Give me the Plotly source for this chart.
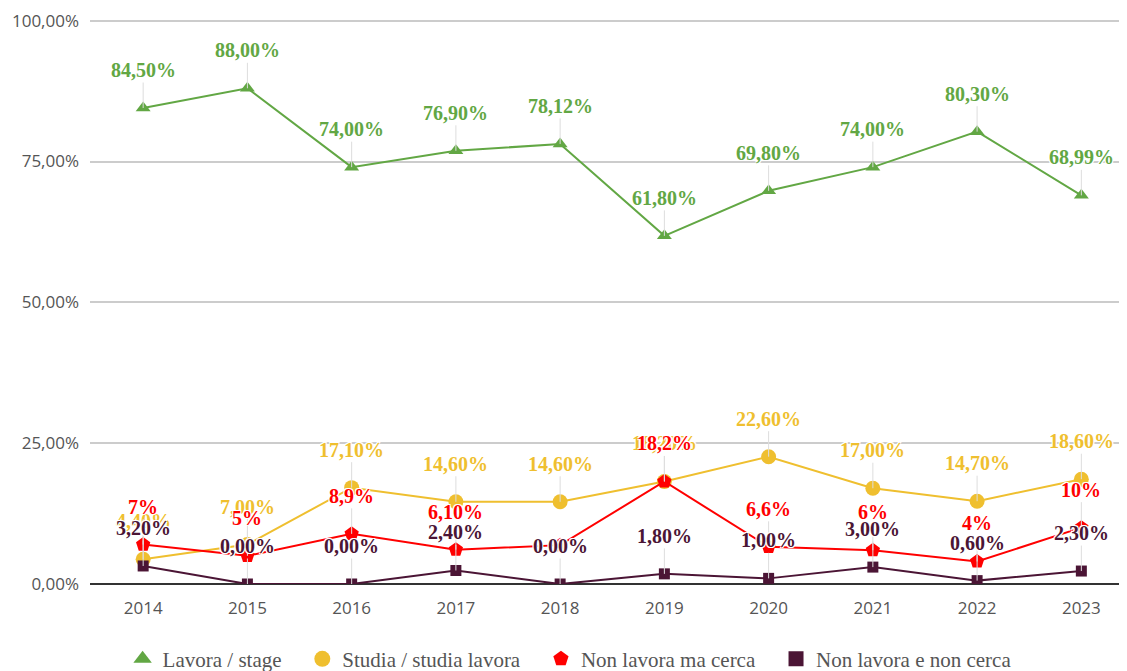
import plotly.graph_objects as go

anni = [2014, 2015, 2016, 2017, 2018, 2019, 2020, 2021, 2022, 2023]

lavora = [84.50, 88.00, 74.00, 76.90, 78.12, 61.80, 69.80, 74.00, 80.30, 68.99]
studia = [4.40, 7.00, 17.10, 14.60, 14.60, 18.20, 22.60, 17.00, 14.70, 18.60]
cerca = [7.0, 5.0, 8.9, 6.1, 6.9, 18.2, 6.6, 6.0, 4.0, 10.0]
non_cerca = [3.20, 0.00, 0.00, 2.40, 0.00, 1.80, 1.00, 3.00, 0.60, 2.30]

# etichette come nel grafico originale (la serie rossa ha formati misti)
lab_lavora = ["84,50%", "88,00%", "74,00%", "76,90%", "78,12%", "61,80%", "69,80%", "74,00%", "80,30%", "68,99%"]
lab_studia = ["4,40%", "7,00%", "17,10%", "14,60%", "14,60%", "18,20%", "22,60%", "17,00%", "14,70%", "18,60%"]
lab_cerca = ["7%", "5%", "8,9%", "6,10%", None, "18,2%", "6,6%", "6%", "4%", "10%"]
lab_non_cerca = ["3,20%", "0,00%", "0,00%", "2,40%", "0,00%", "1,80%", "1,00%", "3,00%", "0,60%", "2,30%"]

y_tick = [0, 25, 50, 75, 100]
y_tick_txt = ["0,00%", "25,00%", "50,00%", "75,00%", "100,00%"]

serie = [
    ("Lavora / stage", lavora, lab_lavora, "#62a744", "triangle-up", 13),
    ("Studia / studia lavora", studia, lab_studia, "#efbf2f", "circle", 15),
    ("Non lavora ma cerca", cerca, lab_cerca, "#ff0000", "pentagon", 15),
    ("Non lavora e non cerca", non_cerca, lab_non_cerca, "#4b1535", "square", 11),
]

halo = "1px 1px 0 #fff, -1px -1px 0 #fff, 1px -1px 0 #fff, -1px 1px 0 #fff"

fig = go.Figure()
annotations = []
for nome, valori, etichette, colore, simbolo, dim in serie:
    fig.add_trace(go.Scatter(
        x=anni, y=valori, name=nome, mode="lines+markers", showlegend=False,
        line=dict(color=colore, width=2),
        marker=dict(symbol=simbolo, size=dim, color=colore),
    ))
    # voce di legenda solo con il marcatore
    fig.add_trace(go.Scatter(
        x=[None], y=[None], name=nome + "   ", mode="markers",
        marker=dict(symbol=simbolo, size=dim + 4, color=colore),
    ))
    for x, y, t in zip(anni, valori, etichette):
        if t is None:
            continue
        annotations.append(dict(
            x=x, y=y, text="<b>" + t + "</b>", showarrow=True,
            arrowhead=0, arrowwidth=1, arrowcolor="#dddddd",
            ax=0, ay=-38,
            font=dict(family="Liberation Serif", size=20, color=colore, shadow=halo),
        ))

fig.update_layout(
    width=1119, height=663,
    margin=dict(l=82, r=5, t=11, b=87, autoexpand=False),
    plot_bgcolor="white", paper_bgcolor="white",
    annotations=annotations,
    showlegend=True,
    legend=dict(
        orientation="h", x=0.472, xanchor="center", y=-0.133, yanchor="middle",
        font=dict(family="Liberation Serif", size=21, color="#555555"),
    ),
    xaxis=dict(
        range=[2013.49, 2023.39], tickvals=anni, ticktext=[str(a) for a in anni],
        showgrid=False, zeroline=False, showline=False,
        tickfont=dict(family="Open Sans", size=17, color="#555555"),
        ticks="", ticklabelstandoff=12,
    ),
    yaxis=dict(
        range=[0, 100.3], tickvals=y_tick, ticktext=y_tick_txt,
        showgrid=True, gridcolor="#cccccc", gridwidth=1.5,
        zeroline=True, zerolinecolor="#333333", zerolinewidth=1.5,
        showline=False, ticklabeloverflow="allow",
        tickfont=dict(family="Open Sans", size=17, color="#555555"),
        ticks="", ticklabelstandoff=10,
    ),
)

fig.write_html("out.html")
